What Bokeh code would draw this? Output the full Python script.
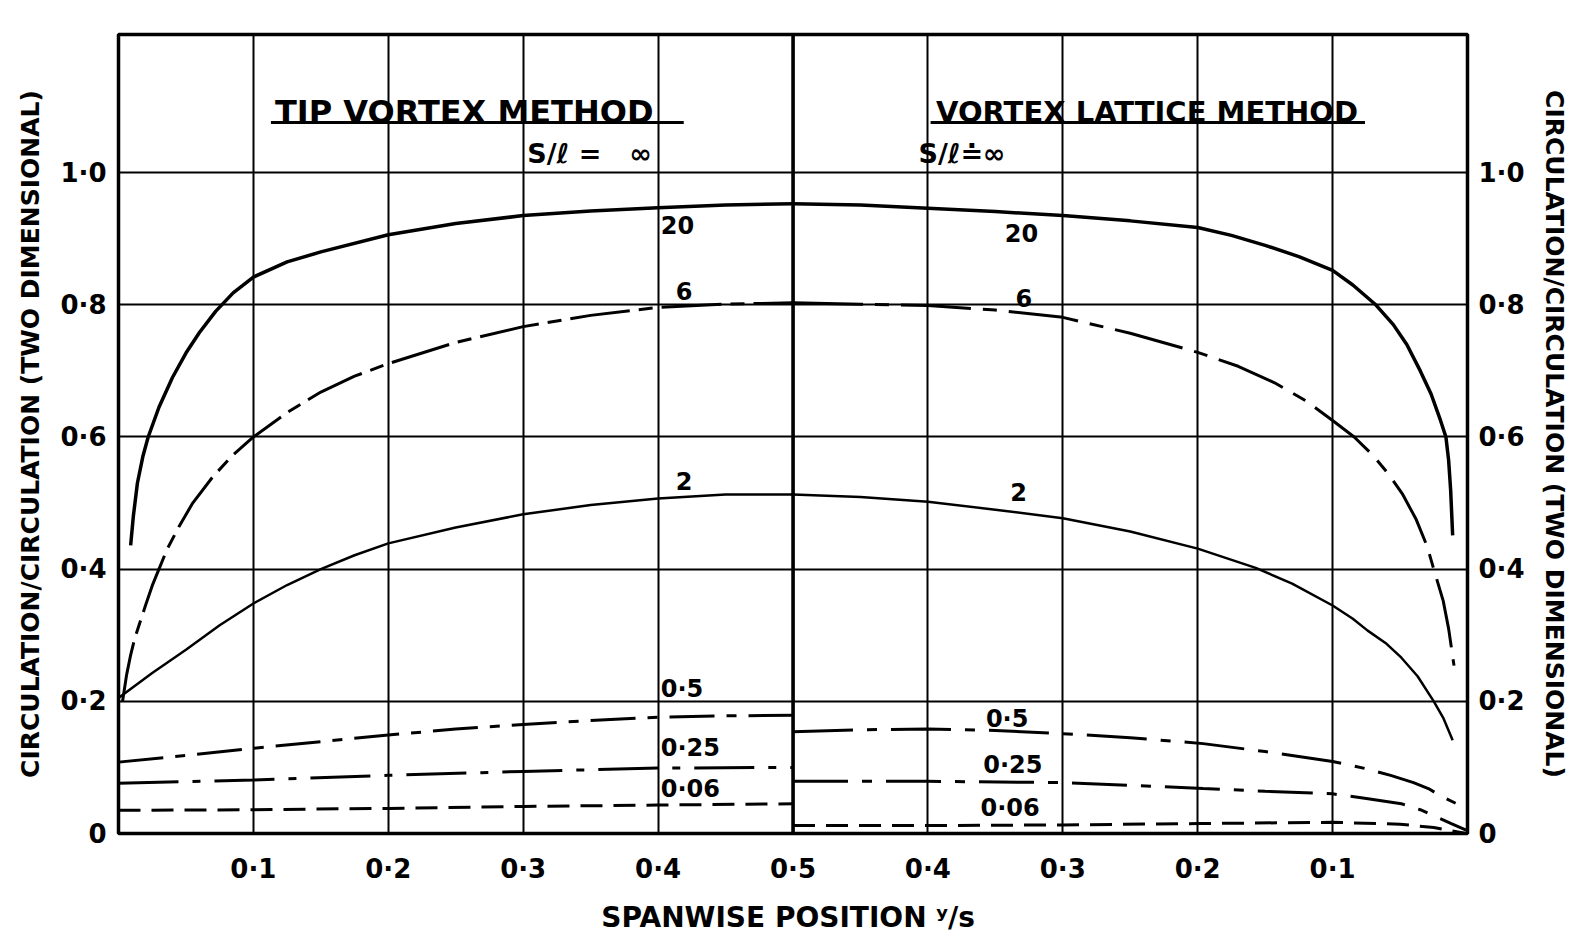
import math
from bokeh.plotting import figure
from bokeh.models import FixedTicker, LinearAxis, Range1d, Span, Label
from bokeh.core.properties import value
from bokeh.embed import file_html
from bokeh.resources import INLINE

FONT = "DejaVu Sans"

# ---------------- data (spanwise position y/s, circulation ratio) ----------------
# Tip vortex method (left half, y/s increasing 0 -> 0.5)
tv20_ys = [0.009, 0.011, 0.014, 0.018, 0.022, 0.03, 0.04, 0.05, 0.06, 0.072, 0.085, 0.1,
           0.125, 0.15, 0.2, 0.25, 0.3, 0.35, 0.4, 0.45, 0.5]
tv20_g = [0.436, 0.48, 0.53, 0.57, 0.60, 0.645, 0.69, 0.727, 0.758, 0.79, 0.818, 0.842,
          0.865, 0.88, 0.906, 0.923, 0.935, 0.942, 0.947, 0.951, 0.953]
tv6_ys = [0.003, 0.006, 0.009, 0.012, 0.016, 0.02, 0.025, 0.03, 0.036, 0.045, 0.055, 0.07,
          0.085, 0.1, 0.125, 0.15, 0.175, 0.2, 0.25, 0.3, 0.35, 0.4, 0.45, 0.5]
tv6_g = [0.20, 0.24, 0.27, 0.295, 0.32, 0.345, 0.375, 0.40, 0.43, 0.465, 0.50, 0.54,
         0.573, 0.60, 0.637, 0.668, 0.692, 0.711, 0.743, 0.767, 0.784, 0.796, 0.801, 0.803]
tv2_ys = [0.0, 0.025, 0.05, 0.075, 0.1, 0.125, 0.15, 0.175, 0.2, 0.25, 0.3, 0.35, 0.4, 0.45, 0.5]
tv2_g = [0.205, 0.243, 0.278, 0.315, 0.348, 0.376, 0.40, 0.421, 0.439, 0.463, 0.483, 0.497,
         0.507, 0.513, 0.513]
tv05_ys = [0.0, 0.05, 0.1, 0.15, 0.2, 0.25, 0.3, 0.35, 0.4, 0.45, 0.5]
tv05_g = [0.108, 0.118, 0.129, 0.139, 0.149, 0.158, 0.165, 0.171, 0.176, 0.178, 0.179]
tv025_ys = [0.0, 0.1, 0.2, 0.3, 0.4, 0.5]
tv025_g = [0.076, 0.081, 0.088, 0.094, 0.099, 0.100]
tv006_ys = [0.0, 0.1, 0.2, 0.3, 0.4, 0.5]
tv006_g = [0.035, 0.036, 0.038, 0.041, 0.043, 0.045]

# Vortex lattice method (right half, y/s decreasing 0.5 -> 0)
vl20_ys = [0.5, 0.45, 0.4, 0.35, 0.3, 0.25, 0.2, 0.175, 0.15, 0.125, 0.1, 0.085, 0.068,
           0.055, 0.045, 0.035, 0.027, 0.02, 0.016, 0.014, 0.0125, 0.011]
vl20_g = [0.953, 0.951, 0.946, 0.941, 0.935, 0.927, 0.917, 0.905, 0.89, 0.873, 0.852, 0.83,
          0.80, 0.77, 0.74, 0.70, 0.665, 0.625, 0.60, 0.565, 0.52, 0.451]
vl6_ys = [0.5, 0.45, 0.4, 0.35, 0.3, 0.25, 0.2, 0.17, 0.143, 0.12, 0.1, 0.084, 0.07, 0.059,
          0.048, 0.038, 0.03, 0.025, 0.018, 0.014, 0.010]
vl6_g = [0.803, 0.801, 0.799, 0.792, 0.781, 0.757, 0.728, 0.707, 0.682, 0.655, 0.625, 0.60,
         0.572, 0.545, 0.513, 0.475, 0.435, 0.40, 0.352, 0.31, 0.254]
vl2_ys = [0.5, 0.45, 0.4, 0.35, 0.3, 0.25, 0.2, 0.157, 0.13, 0.1, 0.085, 0.074, 0.06, 0.049,
          0.037, 0.025, 0.018, 0.011]
vl2_g = [0.513, 0.509, 0.502, 0.49, 0.477, 0.457, 0.431, 0.402, 0.378, 0.345, 0.325, 0.307,
         0.287, 0.266, 0.238, 0.20, 0.175, 0.141]
vl05_ys = [0.5, 0.45, 0.4, 0.35, 0.3, 0.25, 0.196, 0.15, 0.1, 0.075, 0.057, 0.04, 0.029,
           0.02, 0.001]
vl05_g = [0.154, 0.157, 0.158, 0.156, 0.151, 0.145, 0.136, 0.124, 0.109, 0.098, 0.088, 0.077,
          0.068, 0.057, 0.038]
vl025_ys = [0.5, 0.4, 0.3, 0.25, 0.196, 0.15, 0.1, 0.075, 0.049, 0.035, 0.025, 0.012, 0.001]
vl025_g = [0.079, 0.079, 0.077, 0.073, 0.068, 0.064, 0.060, 0.053, 0.045, 0.036, 0.027,
           0.015, 0.005]
vl006_ys = [0.5, 0.4, 0.3, 0.2, 0.1, 0.05, 0.025, 0.001]
vl006_g = [0.012, 0.012, 0.013, 0.015, 0.017, 0.014, 0.009, 0.0]

x_tick_pos = [0.1, 0.2, 0.3, 0.4, 0.5, 0.6, 0.7, 0.8, 0.9]
x_tick_labels = ["0·1", "0·2", "0·3", "0·4", "0·5", "0·4", "0·3", "0·2", "0·1"]
y_tick_pos = [0.0, 0.2, 0.4, 0.6, 0.8, 1.0]
y_tick_labels = ["0", "0·2", "0·4", "0·6", "0·8", "1·0"]

curve_labels = ["20", "6", "2", "0·5", "0·25", "0·06"]
# label anchor positions (plot x units, circulation)
lab_tv_x = [0.402, 0.413, 0.413, 0.402, 0.402, 0.402]
lab_tv_y = [0.92, 0.821, 0.534, 0.219, 0.129, 0.068]
lab_vl_x = [0.657, 0.665, 0.661, 0.643, 0.641, 0.639]
lab_vl_y = [0.909, 0.811, 0.516, 0.174, 0.103, 0.039]

ytitle = "CIRCULATION/CIRCULATION (TWO DIMENSIONAL)"
xtitle = "SPANWISE  POSITION ʸ/s"

# ---------------- figure ----------------
p = figure(frame_width=1349, frame_height=799,
           x_range=Range1d(0, 1), y_range=Range1d(0, 1.209),
           output_backend="svg", toolbar_location=None, title=None,
           min_border_left=118, min_border_right=103,
           min_border_top=34, min_border_bottom=106)
p.background_fill_color = "white"
p.border_fill_color = "white"
p.outline_line_color = "black"
p.outline_line_width = 3.5

xt = FixedTicker(ticks=x_tick_pos)
yt = FixedTicker(ticks=y_tick_pos)

p.xaxis.ticker = xt
p.xaxis.major_label_overrides = dict(zip(x_tick_pos, x_tick_labels))
p.yaxis.ticker = yt
p.yaxis.major_label_overrides = dict(zip(y_tick_pos, y_tick_labels))

p.xgrid.ticker = xt
p.ygrid.ticker = yt
for g in (p.xgrid, p.ygrid):
    g.grid_line_color = "black"
    g.grid_line_width = 2
    g.grid_line_alpha = 1.0

raxis = LinearAxis(ticker=yt, major_label_overrides=dict(zip(y_tick_pos, y_tick_labels)))
p.add_layout(raxis, "right")

for ax in (p.xaxis[0], p.yaxis[0], raxis):
    ax.axis_line_color = None
    ax.major_tick_line_color = None
    ax.minor_tick_line_color = None
    ax.major_tick_out = 0
    ax.major_tick_in = 0
    ax.major_label_text_font = FONT
    ax.major_label_text_font_style = "bold"
    ax.major_label_text_color = "black"
    ax.axis_label_text_font = FONT
    ax.axis_label_text_font_style = "bold"
    ax.axis_label_text_color = "black"

p.xaxis.major_label_text_font_size = "26px"
p.xaxis.major_label_standoff = 20
p.xaxis.axis_label = xtitle
p.xaxis.axis_label_text_font_size = "28px"
p.xaxis.axis_label_standoff = 14

p.yaxis.major_label_text_font_size = "26px"
p.yaxis.major_label_standoff = 12
p.yaxis.axis_label = ytitle
p.yaxis.axis_label_text_font_size = "25px"
p.yaxis.axis_label_standoff = 12

raxis.major_label_text_font_size = "26px"
raxis.major_label_standoff = 11

# right-hand title, reading bottom to top like the left one
p.add_layout(Label(x=1.0625, y=0.67, text=ytitle, angle=-90, angle_units="deg",
                   text_align="center", text_baseline="middle", text_font=FONT,
                   text_font_style="bold", text_font_size="25px", text_color="black"))

# thick centre line between the two methods
p.add_layout(Span(location=0.5, dimension="height", line_color="black", line_width=3.5))

# ---------------- curves ----------------
def left(xs):
    return list(xs)

def right(xs):
    return [1.0 - v for v in xs]

p.line(left(tv20_ys), tv20_g, line_color="black", line_width=3.5)
p.line(left(tv6_ys), tv6_g, line_color="black", line_width=3, line_dash="60 9 14 9")
p.line(left(tv2_ys), tv2_g, line_color="black", line_width=2.5)
p.line(left(tv05_ys), tv05_g, line_color="black", line_width=3, line_dash="45 12 10 12")
p.line(left(tv025_ys), tv025_g, line_color="black", line_width=3, line_dash="60 14 8 14")
p.line(left(tv006_ys), tv006_g, line_color="black", line_width=3, line_dash="22 11")

p.line(right(vl20_ys), vl20_g, line_color="black", line_width=3.5)
p.line(right(vl6_ys), vl6_g, line_color="black", line_width=3, line_dash="70 12 14 12")
p.line(right(vl2_ys), vl2_g, line_color="black", line_width=2.5)
p.line(right(vl05_ys), vl05_g, line_color="black", line_width=3, line_dash="60 14 10 14")
p.line(right(vl025_ys), vl025_g, line_color="black", line_width=3, line_dash="55 14 10 14")
p.line(right(vl006_ys), vl006_g, line_color="black", line_width=3, line_dash="22 11")

# ---------------- annotations ----------------
p.text(x=lab_tv_x, y=lab_tv_y, text=curve_labels, text_font=value(FONT),
       text_font_style="bold", text_font_size="24px", text_color="black",
       text_baseline="middle", text_align="left")
p.text(x=lab_vl_x, y=lab_vl_y, text=curve_labels, text_font=value(FONT),
       text_font_style="bold", text_font_size="24px", text_color="black",
       text_baseline="middle", text_align="left")

head_text = ["TIP VORTEX METHOD", "VORTEX LATTICE METHOD"]
head_x = [0.116, 0.606]
head_y = [1.091, 1.091]
head_size = ["32px", "29px"]
p.text(x=head_x, y=head_y, text=head_text, text_font=value(FONT),
       text_font_style="bold", text_font_size=head_size, text_color="black",
       text_baseline="alphabetic", text_align="left")
ul_x0 = [0.113, 0.602]
ul_x1 = [0.419, 0.924]
ul_y = [1.076, 1.076]
p.segment(x0=ul_x0, y0=ul_y, x1=ul_x1, y1=ul_y, line_color="black", line_width=3)

sl_text = ["S/ℓ =\u00a0\u00a0\u00a0∞", "S/ℓ≐∞"]
sl_x = [0.303, 0.593]
sl_y = [1.029, 1.029]
p.text(x=sl_x, y=sl_y, text=sl_text, text_font=value(FONT),
       text_font_style="bold", text_font_size="27px", text_color="black",
       text_baseline="middle", text_align="left")

open("out.html", "w").write(file_html(p, INLINE))
